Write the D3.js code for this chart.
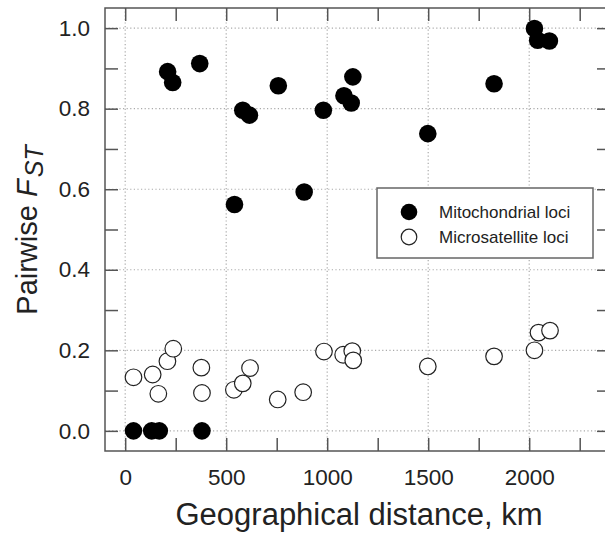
<!DOCTYPE html>
<html lang="en">
<head>
<meta charset="utf-8">
<title>Pairwise FST vs geographical distance</title>
<script src="https://d3js.org/d3.v7.min.js"></script>
<style>
  body { margin: 0; background: #fff; }
  svg { font-family: "Liberation Sans", Arial, Helvetica, sans-serif; }
</style>
</head>
<body>
<script>
// mitochondrial loci (filled circles)
var mitoDist = [210, 235, 369, 582, 615, 758, 541, 886, 981, 1083, 1119, 1127, 1498, 1826, 2026, 2042, 2100, 41, 131, 169, 380];
var mitoFst  = [0.892, 0.865, 0.912, 0.796, 0.784, 0.857, 0.562, 0.593, 0.796, 0.832, 0.814, 0.879, 0.738, 0.862, 0.999, 0.970, 0.968, 0, 0, 0, 0];

// microsatellite loci (open circles)
var microDist = [41, 136, 164, 209, 238, 377, 380, 538, 582, 618, 755, 881, 984, 1079, 1124, 1129, 1498, 1826, 2026, 2046, 2103];
var microFst  = [0.133, 0.140, 0.092, 0.173, 0.204, 0.157, 0.094, 0.102, 0.118, 0.156, 0.078, 0.096, 0.197, 0.189, 0.198, 0.175, 0.160, 0.185, 0.200, 0.244, 0.249];

var xTicks = [0, 250, 500, 750, 1000, 1250, 1500, 1750, 2000, 2250];
var yTicks = [0, 0.1, 0.2, 0.3, 0.4, 0.5, 0.6, 0.7, 0.8, 0.9, 1.0];
var legendLabels = ["Mitochondrial loci", "Microsatellite loci"];

var width = 605, height = 538;
var m = { left: 105, right: 610, top: 8, bottom: 451 };

var svg = d3.select("body").append("svg")
    .attr("width", width)
    .attr("height", height);

var x = d3.scaleLinear().domain([-100, 2400]).range([m.left, m.right]);
var y = d3.scaleLinear().domain([-0.05, 1.05]).range([m.bottom, m.top]);

// dotted grid at the labelled ticks
var grid = svg.append("g");
grid.selectAll(".gx")
    .data(xTicks.filter(function(d) { return d % 500 === 0; }))
    .enter().append("line")
    .attr("x1", x).attr("x2", x)
    .attr("y1", m.top).attr("y2", m.bottom)
    .attr("stroke", "#aaa").attr("stroke-width", 1.2)
    .attr("stroke-dasharray", "1.2,2.4");
grid.selectAll(".gy")
    .data(yTicks.filter(function(d, i) { return i % 2 === 0; }))
    .enter().append("line")
    .attr("x1", m.left).attr("x2", m.right)
    .attr("y1", y).attr("y2", y)
    .attr("stroke", "#aaa").attr("stroke-width", 1.2)
    .attr("stroke-dasharray", "1.2,2.4");

function xLabel(d) { return d % 500 === 0 ? d : ""; }
function yLabel(d) { return Math.round(d * 10) % 2 === 0 ? d3.format(".1f")(d) : ""; }

function styleAxis(g) {
    g.select(".domain").remove();
    g.selectAll(".tick line").attr("stroke", "#555").attr("stroke-width", 1.5);
    g.selectAll(".tick text").attr("fill", "#222").attr("font-size", 22.5);
}

svg.append("g")
    .attr("transform", "translate(0," + m.bottom + ")")
    .call(d3.axisBottom(x).tickValues(xTicks).tickSize(-13).tickPadding(18).tickFormat(xLabel))
    .call(styleAxis);
svg.append("g")
    .attr("transform", "translate(0," + m.top + ")")
    .call(d3.axisTop(x).tickValues(xTicks).tickSize(-13).tickFormat(""))
    .call(styleAxis);
svg.append("g")
    .attr("transform", "translate(" + m.left + ",0)")
    .call(d3.axisLeft(y).tickValues(yTicks).tickSize(-13).tickPadding(15).tickFormat(yLabel))
    .call(styleAxis);
svg.append("g")
    .attr("transform", "translate(" + m.right + ",0)")
    .call(d3.axisRight(y).tickValues(yTicks).tickSize(-13).tickFormat(""))
    .call(styleAxis);

// plot frame
svg.append("rect")
    .attr("x", m.left).attr("y", m.top)
    .attr("width", m.right - m.left).attr("height", m.bottom - m.top)
    .attr("fill", "none").attr("stroke", "#555").attr("stroke-width", 1.5);

// points
svg.append("g").selectAll("circle")
    .data(d3.range(microDist.length))
    .enter().append("circle")
    .attr("cx", function(i) { return x(microDist[i]); })
    .attr("cy", function(i) { return y(microFst[i]); })
    .attr("r", 8.3)
    .attr("fill", "#fff")
    .attr("stroke", "#222")
    .attr("stroke-width", 1.2);

svg.append("g").selectAll("circle")
    .data(d3.range(mitoDist.length))
    .enter().append("circle")
    .attr("cx", function(i) { return x(mitoDist[i]); })
    .attr("cy", function(i) { return y(mitoFst[i]); })
    .attr("r", 8.8)
    .attr("fill", "#000");

// legend
var legend = svg.append("g");
legend.append("rect")
    .attr("x", 377).attr("y", 188)
    .attr("width", 216).attr("height", 70)
    .attr("fill", "#fff").attr("stroke", "#666").attr("stroke-width", 1.5);
legendLabels.forEach(function(label, i) {
    var cy = 212 + i * 25;
    legend.append("circle")
        .attr("cx", 409).attr("cy", cy).attr("r", i === 0 ? 8.3 : 7.8)
        .attr("fill", i === 0 ? "#000" : "#fff")
        .attr("stroke", i === 0 ? "none" : "#222")
        .attr("stroke-width", 1.2);
    legend.append("text")
        .attr("x", 439).attr("y", cy + 5.5)
        .attr("font-size", 17).attr("fill", "#222")
        .text(label);
});

// axis titles
svg.append("text")
    .attr("x", 359).attr("y", 525)
    .attr("text-anchor", "middle")
    .attr("font-size", 31).attr("fill", "#222")
    .text("Geographical distance, km");

var yt = svg.append("text")
    .attr("transform", "translate(37,230) rotate(-90)")
    .attr("text-anchor", "middle")
    .attr("font-size", 29).attr("fill", "#222");
yt.append("tspan").text("Pairwise ");
yt.append("tspan").attr("font-style", "italic").text("F");
yt.append("tspan").attr("font-style", "italic").attr("font-size", 25).attr("dx", 2).attr("dy", 6).text("ST");
</script>
</body>
</html>
